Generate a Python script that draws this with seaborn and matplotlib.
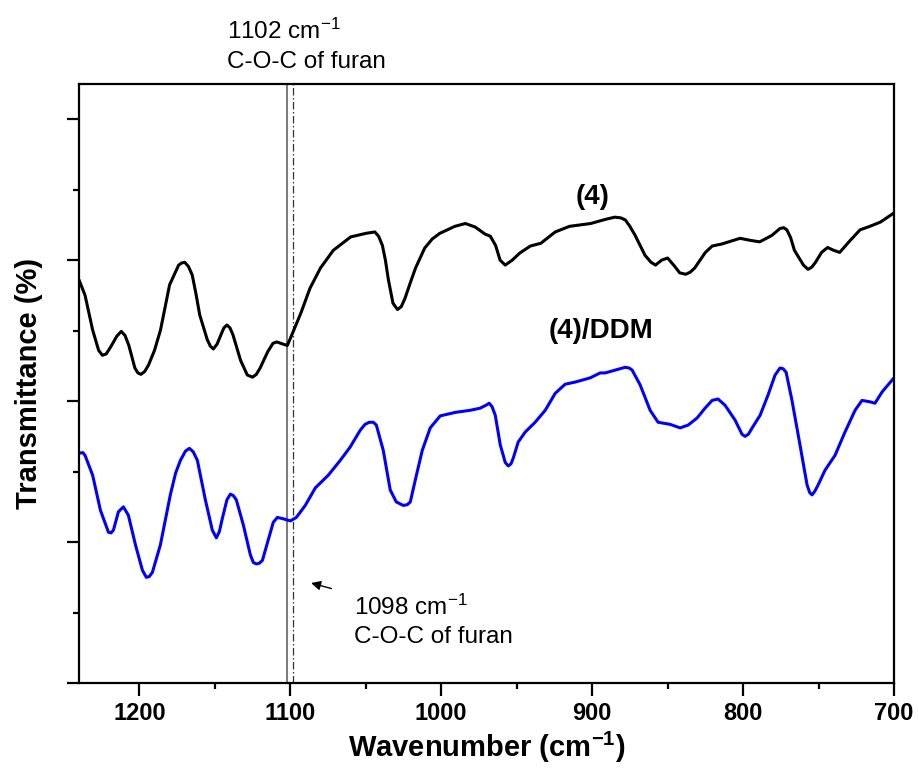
import matplotlib
matplotlib.use("Agg")
import matplotlib.pyplot as plt
import seaborn as sns
import pandas as pd
from matplotlib import font_manager
from matplotlib.ticker import FixedLocator

# ---- data ----
wn_4 = [1240, 1236, 1231, 1227, 1224.5, 1222, 1219, 1215, 1212, 1209.5, 1207, 1203, 1201, 1199,
        1196.5, 1194, 1190, 1186, 1180, 1174, 1172, 1170, 1167.5, 1165, 1162.5, 1160, 1155, 1153,
        1151, 1148.5, 1146, 1144, 1142, 1140, 1138, 1133, 1128.5, 1125, 1122.5, 1120, 1115,
        1111.5, 1109, 1105, 1102, 1099, 1093, 1087, 1080, 1071.5, 1060, 1050, 1044, 1041.5, 1039,
        1037, 1035, 1032, 1029, 1026.5, 1024, 1020.5, 1017, 1011, 1006, 1001, 991, 984, 977.5,
        971, 967.5, 964, 961, 957.6, 953, 948, 941, 934, 924.5, 915, 901, 891, 885, 881, 878,
        875, 871.5, 865, 861, 858, 854, 850, 846, 842, 838, 835, 832, 825, 820.5, 814, 802, 795,
        789, 781, 775.5, 773, 771, 768.5, 766, 760, 757, 754.5, 752, 748, 744, 740, 736, 729,
        722.5, 716, 709, 700]
t_4 = [5.72, 5.50, 5.01, 4.72, 4.65, 4.67, 4.77, 4.92, 4.99, 4.93, 4.79, 4.47, 4.40, 4.38,
       4.42, 4.51, 4.72, 5.01, 5.65, 5.93, 5.96, 5.97, 5.91, 5.79, 5.52, 5.22, 4.87, 4.78,
       4.74, 4.81, 4.94, 5.04, 5.08, 5.04, 4.94, 4.58, 4.37, 4.34, 4.38, 4.47, 4.70,
       4.82, 4.84, 4.81, 4.79, 4.94, 5.25, 5.60, 5.89, 6.14, 6.33, 6.38, 6.40, 6.34, 6.21,
       6.00, 5.72, 5.39, 5.30, 5.34, 5.46, 5.68, 5.89, 6.17, 6.30, 6.38, 6.48, 6.52, 6.47,
       6.37, 6.34, 6.21, 6.00, 5.93, 6.00, 6.10, 6.20, 6.24, 6.40, 6.48, 6.52, 6.58, 6.61, 6.60, 6.57,
       6.48, 6.35, 6.07, 5.97, 5.93, 6.00, 6.03, 5.93, 5.82, 5.80, 5.83, 5.89, 6.11, 6.20, 6.23, 6.31, 6.28,
       6.26, 6.35, 6.45, 6.46, 6.43, 6.32, 6.14, 5.93, 5.87, 5.90, 5.97, 6.11, 6.18, 6.14, 6.11, 6.28,
       6.43, 6.48, 6.54, 6.67]

wn_ddm = [1240, 1237.5, 1236, 1231, 1225.8, 1220.5, 1218.8, 1217.2, 1213.9, 1210.6, 1207.3,
          1202.6, 1198, 1195.4, 1193.5, 1191.4, 1186.1, 1179.5, 1176, 1172.8, 1169.5, 1166.9,
          1164.3, 1161.6, 1156.3, 1151.7, 1149, 1147, 1145, 1142, 1139.7, 1137.8, 1135.8, 1131.1,
          1126.5, 1124.5, 1122.5, 1120.5, 1118.5, 1114.6, 1111.3, 1108.6, 1104.6, 1100, 1096,
          1090.1, 1083.4, 1074.8, 1066.9, 1060.3, 1053.6, 1050.5, 1047.7, 1045, 1043, 1038.4,
          1033.8, 1029.8, 1025.2, 1022.5, 1020.5, 1017.2, 1012.6, 1007.3, 1000.7, 990.7, 980.8,
          974.2, 970.5, 968.2, 966.3, 964.2, 960.9, 957.6, 955.6, 953.8, 952.3, 949, 944.4, 937.8,
          931.1, 924.5, 917.9, 911.3, 901.3, 894.7, 891.4, 884.8, 878.1, 875.5, 873.5, 868.2,
          861.6, 856.3, 848.3, 841.7, 836.4, 830.5, 825.2, 820.5, 816.6, 811.9, 805.3, 800.7,
          798.7, 796.5, 794, 788.7, 783.4, 778.8, 775.5, 773.5, 771.5, 767.6, 762.3, 757.6,
          755.8, 754.3, 752.5, 750.3, 745.7, 739.1, 732.5, 725.8, 721.2, 715.9, 712.6, 707.9, 700]
t_ddm = [3.26, 3.27, 3.23, 2.95, 2.45, 2.14, 2.13, 2.17, 2.43, 2.50, 2.38,
         1.96, 1.60, 1.50, 1.51, 1.57, 1.96, 2.67, 2.98, 3.16, 3.29, 3.33,
         3.28, 3.16, 2.60, 2.17, 2.06, 2.15, 2.34, 2.60, 2.68, 2.66, 2.60, 2.24,
         1.82, 1.71, 1.69, 1.70, 1.74, 2.03, 2.28, 2.35, 2.33, 2.30, 2.35,
         2.52, 2.77, 2.95, 3.16, 3.35, 3.59, 3.67, 3.70, 3.70, 3.66, 3.30,
         2.74, 2.57, 2.52, 2.53, 2.57, 2.88, 3.30, 3.62, 3.79, 3.84, 3.87,
         3.90, 3.94, 3.97, 3.92, 3.80, 3.38, 3.13, 3.08, 3.11, 3.19, 3.42, 3.56, 3.70,
         3.87, 4.11, 4.24, 4.27, 4.33, 4.40, 4.40, 4.44, 4.48, 4.47, 4.44, 4.23,
         3.87, 3.70, 3.67, 3.62, 3.66, 3.76, 3.90, 4.01, 4.03, 3.94, 3.73, 3.53,
         3.50, 3.53, 3.62, 3.80, 4.09, 4.37, 4.47, 4.46, 4.41, 4.01, 3.38, 2.81,
         2.70, 2.67, 2.72, 2.81, 3.02, 3.23, 3.56, 3.87, 4.01, 3.99, 3.97, 4.13, 4.33]

series_names = ["(4)", "(4)/DDM"]
series_colors = ["black", "blue"]
x_major = [1200, 1100, 1000, 900, 800, 700]
x_tick_labels = ["1200", "1100", "1000", "900", "800", "700"]
x_minor = [1150, 1050, 950, 850, 750]
y_major = [0, 2, 4, 6, 8]
y_minor = [1, 3, 5, 7]
peak_4 = 1102
peak_ddm = 1098
ann_4 = ["1102 cm$^{-1}$", "C-O-C of furan"]
ann_ddm = ["1098 cm$^{-1}$", "C-O-C of furan"]

# ---- style ----
sns.set_style("ticks")
names = {f.name for f in font_manager.fontManager.ttflist}
narrow_ok = "Liberation Sans Narrow" in names
base = "Liberation Sans"
nar = "Liberation Sans Narrow" if narrow_ok else base
plt.rcParams["font.family"] = [base, "DejaVu Sans"]
plt.rcParams["text.color"] = "black"
plt.rcParams["axes.labelcolor"] = "black"
plt.rcParams["xtick.color"] = "black"
plt.rcParams["ytick.color"] = "black"
plt.rcParams["mathtext.fontset"] = "custom"
plt.rcParams["mathtext.rm"] = nar
plt.rcParams["mathtext.it"] = nar
plt.rcParams["mathtext.bf"] = nar + ":bold"

axis_label_size = 25 if narrow_ok else 21
ann_size = 20.5 if narrow_ok else 17.5

df = pd.DataFrame({
    "wn": wn_4 + wn_ddm,
    "T": t_4 + t_ddm,
    "sample": [series_names[0]] * len(wn_4) + [series_names[1]] * len(wn_ddm),
})

fig = plt.figure(figsize=(9.19, 7.76), dpi=100)
ax = fig.add_axes([0.0860, 0.1198, 0.8868, 0.7720])

sns.lineplot(data=df, x="wn", y="T", hue="sample",
             palette=dict(zip(series_names, series_colors)),
             legend=False, linewidth=2.2, ax=ax)
for ln in ax.get_lines():
    ln.set_solid_joinstyle("round")
    ln.set_solid_capstyle("round")

ax.axvline(peak_4, color="#555555", lw=1.1, zorder=1)
ax.axvline(peak_ddm, color="#333333", lw=0.9, linestyle=(0, (6, 2, 1.2, 2)), zorder=1)

ax.set_xlim(1240, 700)
ax.set_ylim(0, 8.5)
ax.xaxis.set_major_locator(FixedLocator(x_major))
ax.xaxis.set_minor_locator(FixedLocator(x_minor))
ax.set_xticklabels(x_tick_labels, fontsize=17, fontweight="bold", family=base)
ax.yaxis.set_major_locator(FixedLocator(y_major))
ax.yaxis.set_minor_locator(FixedLocator(y_minor))
ax.set_yticklabels([])

for s in ax.spines.values():
    s.set_linewidth(1.6)
    s.set_color("black")
ax.tick_params(axis="both", which="major", direction="out", length=9, width=1.6,
               color="black", top=False, right=False, pad=5)
ax.tick_params(axis="both", which="minor", direction="out", length=4.5, width=1.6,
               color="black", top=False, right=False)

ax.set_xlabel("Wavenumber (cm$^{\\mathbf{-1}}$)", fontsize=axis_label_size,
              fontweight="bold", family=nar, labelpad=3)
ax.set_ylabel("Transmittance (%)", fontsize=axis_label_size, fontweight="bold",
              family=nar, labelpad=12)

# curve labels
ax.text(900, 6.9, series_names[0], fontsize=20, fontweight="bold", ha="center", va="center")
ax.text(894, 4.99, series_names[1], fontsize=20, fontweight="bold", ha="center", va="center")

# annotations
trans = ax.get_xaxis_transform()
ax.text(1141.7, 1.075, ann_4[0], transform=trans, fontsize=ann_size, family=nar,
        ha="left", va="baseline", clip_on=False)
ax.text(1141.7, 1.0267, ann_4[1], transform=trans, fontsize=ann_size, family=nar,
        ha="left", va="baseline", clip_on=False)
ax.text(1057.6, 0.1135, ann_ddm[0], transform=trans, fontsize=ann_size, family=nar,
        ha="left", va="baseline")
ax.text(1057.6, 0.0668, ann_ddm[1], transform=trans, fontsize=ann_size, family=nar,
        ha="left", va="baseline")
ax.annotate("", xy=(1088, 1.43), xytext=(1071, 1.33),
            arrowprops=dict(arrowstyle="-|>", color="black", lw=1.0, mutation_scale=14))

fig.savefig("out.png", dpi=100)
